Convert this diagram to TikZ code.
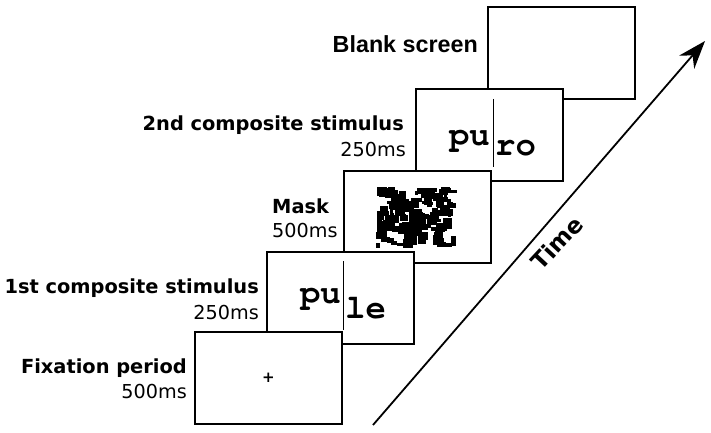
\documentclass[tikz,border=0pt]{standalone}
\usepackage[T1]{fontenc}
\usepackage{fontspec}
\usetikzlibrary{arrows.meta}
\newfontfamily\verd{DejaVu Sans}
\newfontfamily\arl{Liberation Sans}
\newcommand\courb{\fontencoding{T1}\fontfamily{pcr}\fontseries{b}\fontshape{n}}
\begin{document}
\begin{tikzpicture}[x=1pt,y=-1pt,
  screen/.style={draw, line width=1.8pt, fill=white, minimum width=147pt, minimum height=92pt, inner sep=0pt},
  lbold/.style={inner sep=0pt, font=\verd\bfseries\fontsize{19.4}{22}\selectfont},
  lreg/.style={inner sep=0pt, font=\verd\fontsize{19.2}{22}\selectfont},
  stim/.style={inner sep=0pt, font=\courb\fontsize{34}{36}\selectfont},
  cut/.style={line width=0.8pt}]
\useasboundingbox (0,0) rectangle (711,433);
% screens, back to front
\node[screen] (blank) at (561.5,53) {};
\node[screen] (second) at (489.5,135) {};
\node[screen] (mask) at (417.5,217) {};
\node[screen] (first) at (340.5,298) {};
\node[screen] (fix) at (268.5,378) {};
% mask noise
\begin{scope}
\pgfmathsetseed{11}
\foreach \k in {1,...,175}{
  \pgfmathsetmacro\w{3+7*rnd}
  \pgfmathsetmacro\h{3+7*rnd}
  \pgfmathsetmacro\rx{376+(82-\w)*rnd}
  \pgfmathsetmacro\ry{187+(61-\h)*rnd}
  \fill[black] (\rx,\ry) rectangle ++(\w,\h);
}
\end{scope}
% fixation cross
\node[inner sep=0pt, font=\verd\bfseries\fontsize{15}{16}\selectfont] (cross) at (fix.center) {+};
% first composite stimulus
\node[stim, anchor=base east] (pu1) at (341,303) {pu};
\node[stim, anchor=base west] (le1) at (345,318) {le};
\coordinate (c1a) at (343,261);
\coordinate (c1b) at (343,330);
\draw[cut] (c1a) -- (c1b);
% second composite stimulus
\node[stim, anchor=base east] (pu2) at (490,145) {pu};
\node[stim, anchor=base west] (ro2) at (495,155) {ro};
\coordinate (c2a) at (493,99);
\coordinate (c2b) at (493,167);
\draw[cut] (c2a) -- (c2b);
% labels
\node[inner sep=0pt, anchor=base east, font=\arl\bfseries\fontsize{23.3}{26}\selectfont] (lblank) at (478,53) {Blank screen};
\node[lbold, anchor=base east] (l2a) at (404,130) {2nd composite stimulus};
\node[lreg, anchor=base east] (l2b) at (406,156) {250ms};
\node[lbold, anchor=base west] (lma) at (272,213) {Mask};
\node[lreg, anchor=base west] (lmb) at (272,237) {500ms};
\node[lbold, anchor=base east] (l1a) at (259,293) {1st composite stimulus};
\node[lreg, anchor=base east] (l1b) at (259,319) {250ms};
\node[lbold, anchor=base east] (lfa) at (187,373) {Fixation period};
\node[lreg, anchor=base east] (lfb) at (187,398) {500ms};
% time arrow
\coordinate (ts) at (373,425);
\coordinate (te) at (705,41);
\draw[line width=1.8pt, -{Stealth[length=28pt,width=20pt,inset=9pt]}] (ts) -- (te);
\node[inner sep=0pt, rotate=47, font=\verd\bfseries\fontsize{23}{26}\selectfont] (time) at (557,243) {Time};
\end{tikzpicture}
\end{document}
